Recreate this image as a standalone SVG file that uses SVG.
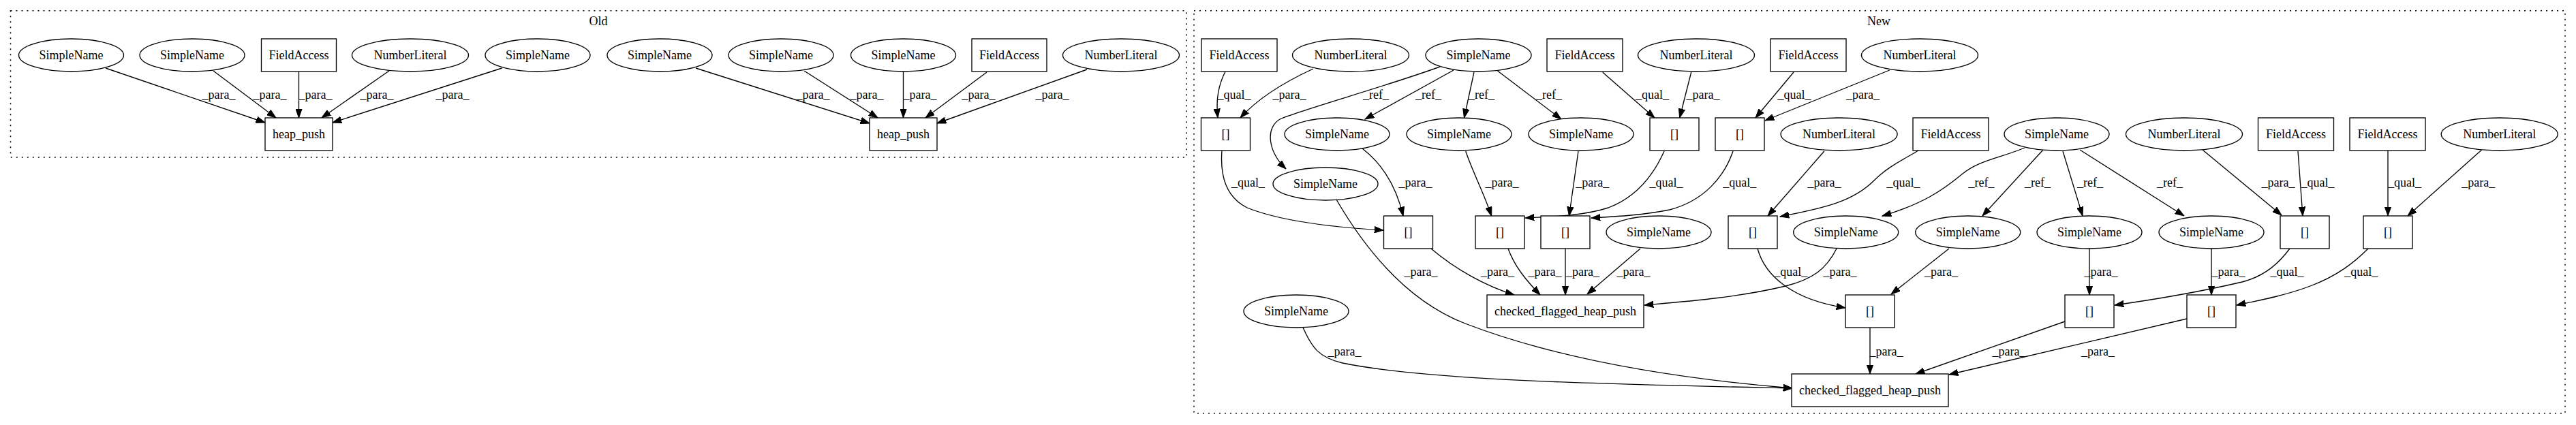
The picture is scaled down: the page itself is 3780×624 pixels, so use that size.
<svg xmlns="http://www.w3.org/2000/svg" width="3780" height="624" viewBox="0 0 3780 624">
<style>
.nd ellipse,.nd rect{fill:#fff;stroke:#000;stroke-width:1.33}
text{font-family:"Liberation Serif","Times New Roman",serif;font-size:18px;text-anchor:middle;fill:#000}
.cl{fill:none;stroke:#000;stroke-width:1.5;stroke-dasharray:2,6}
.ed path{fill:none;stroke:#000;stroke-width:1.33;marker-end:url(#ah)}
</style>
<defs>
<marker id="ah" markerUnits="userSpaceOnUse" viewBox="0 0 14 10" markerWidth="14" markerHeight="10" refX="13.3" refY="5" orient="auto">
<path d="M0,0.3 L13.3,5 L0,9.7 z" fill="#000" stroke="#000" stroke-width="1"/>
</marker>
</defs>
<rect width="3780" height="624" fill="#fff"/>
<g id="cluster_old">
<rect class="cl" x="15.5" y="15.7" width="1725.5" height="215.3"/>
<text x="878" y="37">Old</text>
</g>
<g id="cluster_new">
<rect class="cl" x="1752" y="15.7" width="2012" height="591"/>
<text x="2757" y="37">New</text>
</g>
<g id="connectors" class="ed">
<!-- Old -->
<path d="M155,100 L389,180"/><text x="321" y="145">_para_</text>
<path d="M313,104 L405,173"/><text x="396" y="145">_para_</text>
<path d="M438.5,105 L438.5,173"/><text x="463" y="145">_para_</text>
<path d="M571,104 L472,173"/><text x="553" y="145">_para_</text>
<path d="M736.5,100 L488,180"/><text x="664" y="145">_para_</text>
<path d="M1021,100 L1276,181"/><text x="1193" y="145">_para_</text>
<path d="M1180,104 L1288,173"/><text x="1272" y="145">_para_</text>
<path d="M1325.5,105 L1325.5,173"/><text x="1350" y="145">_para_</text>
<path d="M1448,106 L1358,173"/><text x="1436" y="145">_para_</text>
<path d="M1595,102 L1375,181"/><text x="1544" y="145">_para_</text>
<!-- New row1 -> row2 -->
<path d="M1798,105 C1788,125 1784,145 1787,173"/><text x="1811" y="145">_qual_</text>
<path d="M1927,101 C1890,118 1850,140 1820,173"/><text x="1892" y="145">_para_</text>
<path d="M2113,98 C2030,128 1920,158 1880,174 C1856,186 1860,222 1887,248"/><text x="2019" y="145">_ref_</text>
<path d="M2133,103 L2003,175"/><text x="2096" y="145">_ref_</text>
<path d="M2163,106 L2148.5,173"/><text x="2174" y="145">_ref_</text>
<path d="M2197.5,104 L2291,175"/><text x="2273" y="145">_ref_</text>
<path d="M2351.6,106 L2428,173"/><text x="2424.5" y="145">_qual_</text>
<path d="M2481.7,106 L2464.7,173"/><text x="2499" y="145">_para_</text>
<path d="M2632,106 L2576,173"/><text x="2633" y="145">_qual_</text>
<path d="M2772.7,103 L2590,177"/><text x="2733.5" y="145">_para_</text>
<!-- row2 -> row3 -->
<path d="M1999,218 C2025,238 2048,270 2059,317"/><text x="2077" y="274">_para_</text>
<path d="M2150.7,222 C2160,250 2178,285 2188.6,317"/><text x="2204" y="274">_para_</text>
<path d="M2316,222 L2302.5,317"/><text x="2336.7" y="274">_para_</text>
<path d="M1793,221 C1790,260 1800,290 1830,305 C1880,325 1960,334 2030,338"/><text x="1831.5" y="274">_qual_</text>
<path d="M2442,222 C2425,260 2400,290 2360,305 C2320,318 2270,318 2238,320"/><text x="2445" y="274">_qual_</text>
<path d="M2543,222 C2530,260 2500,295 2450,308 C2410,316 2370,318 2335,320"/><text x="2552.7" y="274">_qual_</text>
<path d="M2676.8,222 L2594,317"/><text x="2677" y="274">_para_</text>
<path d="M2815,221 C2790,236 2770,245 2750,265 C2720,295 2680,305 2612,318"/><text x="2793" y="274">_qual_</text>
<path d="M2971,217 C2935,232 2905,235 2880,255 C2850,280 2820,300 2762,317"/><text x="2907.6" y="274">_ref_</text>
<path d="M2998,220 L2909,317"/><text x="2990" y="274">_ref_</text>
<path d="M3027,222 L3056,317"/><text x="3067" y="274">_ref_</text>
<path d="M3052,220 L3205,317"/><text x="3184" y="274">_ref_</text>
<path d="M3232,220 L3348,316"/><text x="3343" y="274">_para_</text>
<path d="M3372,222 L3379,317"/><text x="3401" y="274">_qual_</text>
<path d="M3504,221 L3504,317"/><text x="3528.6" y="274">_qual_</text>
<path d="M3641.6,220 L3533,317"/><text x="3636.7" y="274">_para_</text>
<!-- row3 -> row4 -->
<path d="M2100,365 C2135,395 2180,420 2222,433"/><text x="2197.6" y="405">_para_</text>
<path d="M2213,365 C2222,390 2238,410 2260,433"/><text x="2267" y="405">_para_</text>
<path d="M2297,365 L2297,433"/><text x="2322.5" y="405">_para_</text>
<path d="M2407,365 L2329,432"/><text x="2397" y="405">_para_</text>
<path d="M2695,365 C2680,395 2660,410 2620,420 C2550,437 2470,443 2413,448"/><text x="2700" y="405">_para_</text>
<path d="M1961,293 C2000,360 2060,440 2150,475 C2280,525 2450,555 2630,570"/><text x="2085" y="405">_para_</text>
<path d="M2579,365 C2590,405 2630,440 2708,452"/><text x="2627.7" y="405">_qual_</text>
<path d="M2860,365 L2775,432"/><text x="2848.6" y="405">_para_</text>
<path d="M3066,365 L3066,433"/><text x="3083" y="405">_para_</text>
<path d="M3245,365 L3245,433"/><text x="3270" y="405">_para_</text>
<path d="M3360,365 C3345,385 3325,405 3290,414 C3230,428 3160,440 3103,448"/><text x="3356" y="405">_qual_</text>
<path d="M3475,365 C3455,385 3430,405 3390,420 C3350,435 3310,442 3282,448"/><text x="3464.8" y="405">_qual_</text>
<!-- row4 -> row5 -->
<path d="M1912,481 C1925,510 1935,525 1970,533 C2100,560 2400,565 2630,570"/><text x="1973" y="522">_para_</text>
<path d="M2744,481 L2744,549"/><text x="2768" y="522">_para_</text>
<path d="M3030,472 L2811,549"/><text x="2948" y="522">_para_</text>
<path d="M3209,468 L2860,550"/><text x="3078.5" y="522">_para_</text>
</g>
<!-- Old nodes -->
<g id="o1" class="nd"><ellipse cx="104.5" cy="81" rx="77" ry="24"/><text x="104.5" y="87">SimpleName</text></g>
<g id="o2" class="nd"><ellipse cx="282" cy="81" rx="77" ry="24"/><text x="282" y="87">SimpleName</text></g>
<g id="o3" class="nd"><rect x="383.5" y="57" width="110" height="48"/><text x="438.5" y="87">FieldAccess</text></g>
<g id="o4" class="nd"><ellipse cx="602" cy="81" rx="85.5" ry="24"/><text x="602" y="87">NumberLiteral</text></g>
<g id="o5" class="nd"><ellipse cx="789" cy="81" rx="77" ry="24"/><text x="789" y="87">SimpleName</text></g>
<g id="o6" class="nd"><rect x="389" y="173" width="99" height="48"/><text x="438.5" y="203">heap_push</text></g>
<g id="o7" class="nd"><ellipse cx="968" cy="81" rx="77" ry="24"/><text x="968" y="87">SimpleName</text></g>
<g id="o8" class="nd"><ellipse cx="1146" cy="81" rx="77" ry="24"/><text x="1146" y="87">SimpleName</text></g>
<g id="o9" class="nd"><ellipse cx="1325.5" cy="81" rx="77" ry="24"/><text x="1325.5" y="87">SimpleName</text></g>
<g id="o10" class="nd"><rect x="1426" y="57" width="110" height="48"/><text x="1481" y="87">FieldAccess</text></g>
<g id="o11" class="nd"><ellipse cx="1645" cy="81" rx="85.5" ry="24"/><text x="1645" y="87">NumberLiteral</text></g>
<g id="o12" class="nd"><rect x="1276" y="173" width="99" height="48"/><text x="1325.5" y="203">heap_push</text></g>
<!-- New nodes row1 -->
<g id="fa1" class="nd"><rect x="1763" y="57" width="111" height="48"/><text x="1818.5" y="87">FieldAccess</text></g>
<g id="nl1" class="nd"><ellipse cx="1982" cy="81" rx="85.5" ry="24"/><text x="1982" y="87">NumberLiteral</text></g>
<g id="hub1" class="nd"><ellipse cx="2169.5" cy="81" rx="77.5" ry="24"/><text x="2169.5" y="87">SimpleName</text></g>
<g id="fa2" class="nd"><rect x="2270" y="57" width="111" height="48"/><text x="2325.5" y="87">FieldAccess</text></g>
<g id="nl2" class="nd"><ellipse cx="2489" cy="81" rx="85.5" ry="24"/><text x="2489" y="87">NumberLiteral</text></g>
<g id="fa3" class="nd"><rect x="2598" y="57" width="111" height="48"/><text x="2653.5" y="87">FieldAccess</text></g>
<g id="nl3" class="nd"><ellipse cx="2817" cy="81" rx="85.5" ry="24"/><text x="2817" y="87">NumberLiteral</text></g>
<!-- row2 -->
<g id="b1" class="nd"><rect x="1762.5" y="173" width="72" height="48"/><text x="1798.5" y="203">[]</text></g>
<g id="sa" class="nd"><ellipse cx="1962" cy="197" rx="77" ry="24"/><text x="1962" y="203">SimpleName</text></g>
<g id="sb" class="nd"><ellipse cx="2141" cy="197" rx="77" ry="24"/><text x="2141" y="203">SimpleName</text></g>
<g id="sc" class="nd"><ellipse cx="2320" cy="197" rx="77" ry="24"/><text x="2320" y="203">SimpleName</text></g>
<g id="b2" class="nd"><rect x="2421" y="173" width="72" height="48"/><text x="2457" y="203">[]</text></g>
<g id="b3" class="nd"><rect x="2517" y="173" width="72" height="48"/><text x="2553" y="203">[]</text></g>
<g id="nl4" class="nd"><ellipse cx="2698.6" cy="197" rx="85.5" ry="24"/><text x="2698.6" y="203">NumberLiteral</text></g>
<g id="fa4" class="nd"><rect x="2807" y="173" width="111" height="48"/><text x="2862.5" y="203">FieldAccess</text></g>
<g id="hub2" class="nd"><ellipse cx="3018" cy="197" rx="77" ry="24"/><text x="3018" y="203">SimpleName</text></g>
<g id="nl5" class="nd"><ellipse cx="3205" cy="197" rx="85.5" ry="24"/><text x="3205" y="203">NumberLiteral</text></g>
<g id="fa5" class="nd"><rect x="3313.5" y="173" width="111" height="48"/><text x="3369" y="203">FieldAccess</text></g>
<g id="fa6" class="nd"><rect x="3448" y="173" width="111" height="48"/><text x="3503.5" y="203">FieldAccess</text></g>
<g id="nl6" class="nd"><ellipse cx="3667.7" cy="197" rx="85.5" ry="24"/><text x="3667.7" y="203">NumberLiteral</text></g>
<g id="sd" class="nd"><ellipse cx="1945" cy="270" rx="77" ry="24"/><text x="1945" y="276">SimpleName</text></g>
<!-- row3 -->
<g id="b4" class="nd"><rect x="2030.5" y="317" width="72" height="48"/><text x="2066.5" y="347">[]</text></g>
<g id="b5" class="nd"><rect x="2165" y="317" width="72" height="48"/><text x="2201" y="347">[]</text></g>
<g id="b6" class="nd"><rect x="2261" y="317" width="72" height="48"/><text x="2297" y="347">[]</text></g>
<g id="se" class="nd"><ellipse cx="2434" cy="341" rx="77" ry="24"/><text x="2434" y="347">SimpleName</text></g>
<g id="bG" class="nd"><rect x="2536" y="317" width="72" height="48"/><text x="2572" y="347">[]</text></g>
<g id="s7" class="nd"><ellipse cx="2708.7" cy="341" rx="77" ry="24"/><text x="2708.7" y="347">SimpleName</text></g>
<g id="s8" class="nd"><ellipse cx="2887.7" cy="341" rx="77" ry="24"/><text x="2887.7" y="347">SimpleName</text></g>
<g id="s9" class="nd"><ellipse cx="3066" cy="341" rx="77" ry="24"/><text x="3066" y="347">SimpleName</text></g>
<g id="s10" class="nd"><ellipse cx="3245" cy="341" rx="77" ry="24"/><text x="3245" y="347">SimpleName</text></g>
<g id="bK" class="nd"><rect x="3346" y="317" width="72" height="48"/><text x="3382" y="347">[]</text></g>
<g id="bL" class="nd"><rect x="3468" y="317" width="72" height="48"/><text x="3504" y="347">[]</text></g>
<!-- row4 -->
<g id="s6" class="nd"><ellipse cx="1902" cy="457" rx="77" ry="24"/><text x="1902" y="463">SimpleName</text></g>
<g id="chkA" class="nd"><rect x="2182" y="433" width="230" height="48"/><text x="2297" y="463">checked_flagged_heap_push</text></g>
<g id="bH" class="nd"><rect x="2708" y="433" width="72" height="48"/><text x="2744" y="463">[]</text></g>
<g id="bI" class="nd"><rect x="3030" y="433" width="72" height="48"/><text x="3066" y="463">[]</text></g>
<g id="bM" class="nd"><rect x="3209" y="433" width="72" height="48"/><text x="3245" y="463">[]</text></g>
<!-- row5 -->
<g id="chkB" class="nd"><rect x="2629" y="549" width="230" height="48"/><text x="2744" y="579">checked_flagged_heap_push</text></g>
</svg>
